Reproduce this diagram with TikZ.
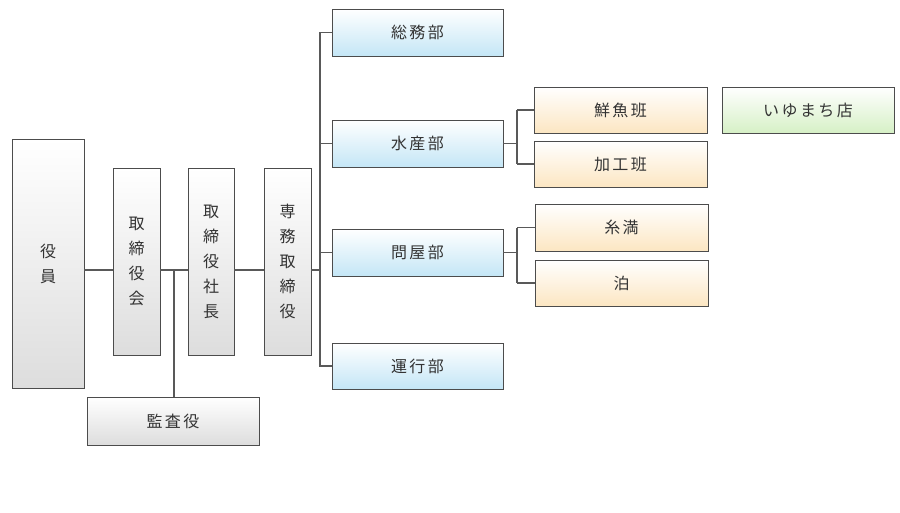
\documentclass[tikz,border=0pt]{standalone}
\usepackage{fontspec}
\setmainfont{Noto Sans CJK JP}[LetterSpace=15]
\definecolor{gb}{HTML}{DDDDDD}
\definecolor{bb}{HTML}{C4E6F6}
\definecolor{ob}{HTML}{FCE6C2}
\definecolor{grb}{HTML}{D6F0C6}
\begin{document}
\begin{tikzpicture}[x=1pt,y=-1pt,
  bx/.style={draw=black!70,line width=0.9pt,top color=white,text=black!80,inner sep=0pt,align=center,font=\fontsize{16}{25}\selectfont},
  g/.style={bx,bottom color=gb},
  b/.style={bx,bottom color=bb},
  o/.style={bx,bottom color=ob},
  gr/.style={bx,bottom color=grb},
  ln/.style={draw=black!65,line width=1.3pt}]
\useasboundingbox (0,0) rectangle (900,512);
\node[g,minimum width=72,minimum height=249] (yaku) at (48,263.5) {役\\員};
\node[g,minimum width=47,minimum height=187] (tk) at (136.5,261.5) {取\\締\\役\\会};
\node[g,minimum width=46,minimum height=187] (sc) at (211,261.5) {取\\締\\役\\社\\長};
\node[g,minimum width=47,minimum height=187] (sm) at (287.5,261.5) {専\\務\\取\\締\\役};
\node[g,minimum width=172,minimum height=48] (ks) at (173,421) {監査役};
\node[b,minimum width=171,minimum height=47] (so) at (417.5,32.5) {総務部};
\node[b,minimum width=171,minimum height=47] (su) at (417.5,143.5) {水産部};
\node[b,minimum width=171,minimum height=47] (to) at (417.5,252.5) {問屋部};
\node[b,minimum width=171,minimum height=46] (un) at (417.5,366) {運行部};
\node[o,minimum width=173,minimum height=46] (se) at (620.5,110) {鮮魚班};
\node[o,minimum width=173,minimum height=46] (ka) at (620.5,164) {加工班};
\node[o,minimum width=173,minimum height=47] (it) at (621.5,227.5) {糸満};
\node[o,minimum width=173,minimum height=46] (tm) at (621.5,283) {泊};
\node[gr,minimum width=172,minimum height=46] (iy) at (808,110) {いゆまち店};
\coordinate (j1) at (174,270);
\coordinate (bus) at (320,270);
\path[ln] (yaku.east|-bus) -- (tk.west|-bus) (tk.east|-bus) -- (sc.west|-bus) (sc.east|-bus) -- (sm.west|-bus) (sm.east|-bus) -- (bus);
\path[ln] (j1) -- (j1|-ks.north);
\path[ln] (so.west) -| (bus) |- (un.west);
\path[ln] (bus|-su.west) -- (su.west) (bus|-to.west) -- (to.west);
\coordinate (s1) at (517,143.5);
\path[ln] (su.east) -- (s1) (s1|-se.west) -- (s1|-ka.west) (s1|-se.west) -- (se.west) (s1|-ka.west) -- (ka.west);
\coordinate (s2) at (517,252.5);
\path[ln] (to.east) -- (s2) (s2|-it.west) -- (s2|-tm.west) (s2|-it.west) -- (it.west) (s2|-tm.west) -- (tm.west);
\end{tikzpicture}
\end{document}
